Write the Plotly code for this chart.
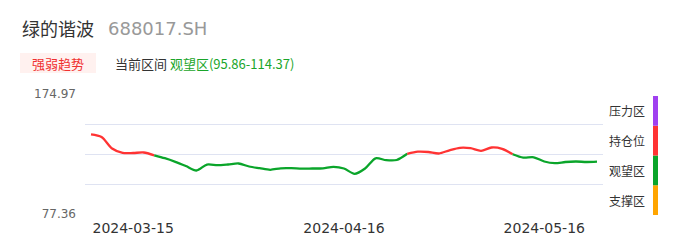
import plotly.graph_objects as go

dates = ["2024-03-11","2024-03-12","2024-03-13","2024-03-14","2024-03-15",
         "2024-03-18","2024-03-19","2024-03-20","2024-03-21","2024-03-22",
         "2024-03-25","2024-03-26","2024-03-27","2024-03-28","2024-03-29",
         "2024-04-01","2024-04-02","2024-04-03",
         "2024-04-08","2024-04-09","2024-04-10","2024-04-11","2024-04-12",
         "2024-04-15","2024-04-16","2024-04-17","2024-04-18","2024-04-19",
         "2024-04-22","2024-04-23","2024-04-24","2024-04-25","2024-04-26",
         "2024-04-29","2024-04-30",
         "2024-05-06","2024-05-07","2024-05-08","2024-05-09","2024-05-10",
         "2024-05-13","2024-05-14","2024-05-15","2024-05-16","2024-05-17",
         "2024-05-20","2024-05-21","2024-05-22","2024-05-23"]
values = [142.19,139.99,130.64,127.06,126.98,127.38,125.11,122.75,119.82,116.40,
          112.74,117.62,117.05,117.62,118.44,116.00,114.61,113.31,114.53,114.61,
          114.21,114.37,114.53,115.75,114.37,110.06,114.37,122.67,121.12,121.28,
          126.33,128.04,127.79,126.57,129.17,131.21,130.88,128.77,131.45,130.39,
          126.00,123.24,123.48,120.06,118.68,119.66,120.06,119.66,119.90]
tick_dates = ["2024-03-15","2024-04-16","2024-05-16"]
y_min, y_max = 77.36, 174.97
threshold = 126.16
zones = ["支撑区","观望区","持仓位","压力区"]
zone_colors = ["#ffa500","#0aa52a","#ff3333","#a040f0"]

RED, GREEN = "#ff3333", "#0aa52a"

fig = go.Figure()
runs = []
for i in range(len(values) - 1):
    c = RED if (values[i] + values[i + 1]) / 2 >= threshold else GREEN
    if runs and runs[-1][0] == c:
        runs[-1][1].append(i + 1)
    else:
        runs.append([c, [i, i + 1]])
for c, pts in runs:
    fig.add_trace(go.Scatter(x=pts, y=[values[p] for p in pts], mode="lines",
                             line=dict(color=c, width=2.3, shape="spline", smoothing=0.8),
                             hoverinfo="skip", showlegend=False))

step = (y_max - y_min) / 4
yt = [y_min + k * step for k in range(5)]
ytext = [f"{y_min:.2f}", "", "", "", f"{y_max:.2f}"]

fig.update_layout(
    width=686, height=247,
    margin=dict(l=85, r=83, t=94, b=33),
    paper_bgcolor="white", plot_bgcolor="white",
    font=dict(family="Noto Sans CJK SC, Noto Sans, sans-serif", color="#333"),
    xaxis=dict(range=[-0.57, len(values) - 1 + 0.57], tickvals=[dates.index(d) for d in tick_dates],
               ticktext=tick_dates, showgrid=False, zeroline=False, showline=False,
               ticks="", ticklabelstandoff=4,
               tickfont=dict(size=14, color="#333", family="DejaVu Sans")),
    yaxis=dict(range=[y_min, y_max], tickvals=yt, ticktext=ytext, showgrid=True,
               gridcolor="#dfe3f2", gridwidth=1, zeroline=False, showline=False,
               ticks="", ticklabelstandoff=8,
               tickfont=dict(size=12, color="#666", family="DejaVu Sans")),
)

n = len(zones)
y0p = (214 - 215) / 120
y1p = (214 - 96) / 120
h = (y1p - y0p) / n
for k, (z, c) in enumerate(zip(zones, zone_colors)):
    fig.add_shape(type="rect", xref="paper", yref="paper",
                  x0=1.0965, x1=1.1062, y0=y0p + k * h, y1=y0p + (k + 1) * h,
                  fillcolor=c, line=dict(width=0))
    fig.add_annotation(xref="paper", yref="paper", x=1.0077, y=y0p + (k + 0.5) * h,
                       text=z, showarrow=False, xanchor="left", yanchor="middle",
                       font=dict(size=12, color="#333"))

fig.add_annotation(xref="paper", yref="paper", x=(20 - 85) / 518, y=(214 - 28) / 120,
                   text="绿的谐波", showarrow=False, xanchor="left", yanchor="middle",
                   font=dict(size=18, color="#333"))
fig.add_annotation(xref="paper", yref="paper", x=(106 - 85) / 518, y=(214 - 28) / 120,
                   text="688017.SH", showarrow=False, xanchor="left", yanchor="middle",
                   font=dict(size=18, color="#999", family="DejaVu Sans"))
fig.add_shape(type="rect", xref="paper", yref="paper",
              x0=(20 - 85) / 518, x1=(96 - 85) / 518, y0=(214 - 73) / 120, y1=(214 - 53) / 120,
              fillcolor="#fff1ef", line=dict(width=0))
fig.add_annotation(xref="paper", yref="paper", x=(58 - 85) / 518, y=(214 - 63) / 120,
                   text="强弱趋势", showarrow=False, xanchor="center", yanchor="middle",
                   font=dict(size=13, color="#f03030"))
fig.add_annotation(xref="paper", yref="paper", x=(113 - 85) / 518, y=(214 - 63) / 120,
                   text="当前区间 <span style='color:#1aa52a'>观望区(95.86-114.37)</span>",
                   showarrow=False, xanchor="left", yanchor="middle",
                   font=dict(size=13, color="#333"))

fig.write_html("out.html")
